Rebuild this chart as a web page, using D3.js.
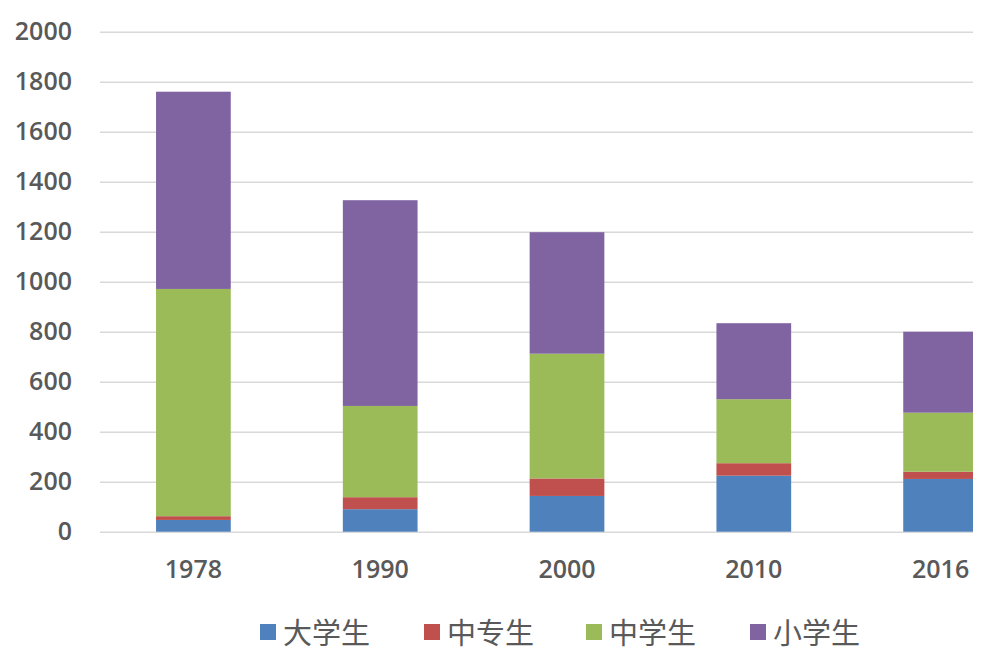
<!DOCTYPE html>
<html>
<head>
<meta charset="utf-8">
<script src="https://cdn.jsdelivr.net/npm/d3@7"></script>
<style>
  body { margin: 0; background: #fff; }
  svg { display: block; }
</style>
</head>
<body>
<svg id="chart" width="999" height="655"></svg>
<script>
// 年份与各类学生数量
const years = ["1978", "1990", "2000", "2010", "2016"];
const seriesNames = ["大学生", "中专生", "中学生", "小学生"];
const daxuesheng = [47, 90, 143, 224, 211];
const zhongzhuansheng = [15, 48, 70, 50, 29];
const zhongxuesheng = [909, 365, 499, 256, 236];
const xiaoxuesheng = [789, 823, 486, 304, 324];
const yTicks = [0, 200, 400, 600, 800, 1000, 1200, 1400, 1600, 1800, 2000];
const colors = ["#4F81BD", "#C0504D", "#9BBB59", "#8064A2"];

const rows = years.map((yr, i) => ({
  year: yr,
  "大学生": daxuesheng[i],
  "中专生": zhongzhuansheng[i],
  "中学生": zhongxuesheng[i],
  "小学生": xiaoxuesheng[i]
}));

const svg = d3.select("#chart");
const plotLeft = 100, plotRight = 1034, plotTop = 31.7, plotBottom = 531.7;
const clipRight = 973;

const x = d3.scaleBand().domain(years).range([plotLeft, plotRight]).paddingInner(0.6).paddingOuter(0.3);
const y = d3.scaleLinear().domain([0, 2000]).range([plotBottom, plotTop]);

svg.append("clipPath").attr("id", "plotclip")
  .append("rect").attr("x", 0).attr("y", 0).attr("width", clipRight).attr("height", 655);

const plot = svg.append("g").attr("clip-path", "url(#plotclip)");

// 网格线
plot.append("g")
  .attr("transform", `translate(${plotLeft},0)`)
  .call(d3.axisRight(y).tickValues(yTicks).tickSize(plotRight - plotLeft).tickFormat(""))
  .call(g => g.select(".domain").remove())
  .call(g => g.selectAll("line").attr("stroke", "#D9D9D9").attr("stroke-width", 1.5));

// 堆叠柱
const stacked = d3.stack().keys(seriesNames)(rows);
plot.selectAll(".layer")
  .data(stacked)
  .enter()
  .append("g")
  .attr("class", "layer")
  .attr("fill", (d, i) => colors[i])
  .selectAll("rect")
  .data(d => d)
  .enter()
  .append("rect")
  .attr("x", d => x(d.data.year))
  .attr("y", d => y(d[1]))
  .attr("width", x.bandwidth())
  .attr("height", d => y(d[0]) - y(d[1]));

const fontFamily = "'Open Sans', 'Noto Sans', sans-serif";

// Y 轴
svg.append("g")
  .attr("transform", `translate(${plotLeft},0)`)
  .call(d3.axisLeft(y).tickValues(yTicks).tickSize(0).tickPadding(28).tickFormat(d3.format("d")))
  .call(g => g.select(".domain").remove())
  .selectAll("text")
  .attr("fill", "#595959")
  .style("font-family", fontFamily)
  .style("font-size", "25px")
  .style("font-weight", "600");

// X 轴
svg.append("g")
  .attr("transform", `translate(0,${plotBottom})`)
  .call(d3.axisBottom(x).tickSize(0).tickPadding(29))
  .call(g => g.select(".domain").remove())
  .selectAll("text")
  .attr("fill", "#595959")
  .style("font-family", fontFamily)
  .style("font-size", "25px")
  .style("font-weight", "600");

// 图例
const legendX = [260, 424, 586, 750];
const legend = svg.append("g");
seriesNames.forEach((name, i) => {
  legend.append("rect")
    .attr("x", legendX[i]).attr("y", 624)
    .attr("width", 16).attr("height", 16)
    .attr("fill", colors[i]);
  legend.append("text")
    .attr("x", legendX[i] + 23).attr("y", 631)
    .attr("dominant-baseline", "central")
    .attr("fill", "#595959")
    .style("font-family", "'Noto Sans CJK SC', sans-serif")
    .style("font-size", "29px")
    .text(name);
});
</script>
</body>
</html>
